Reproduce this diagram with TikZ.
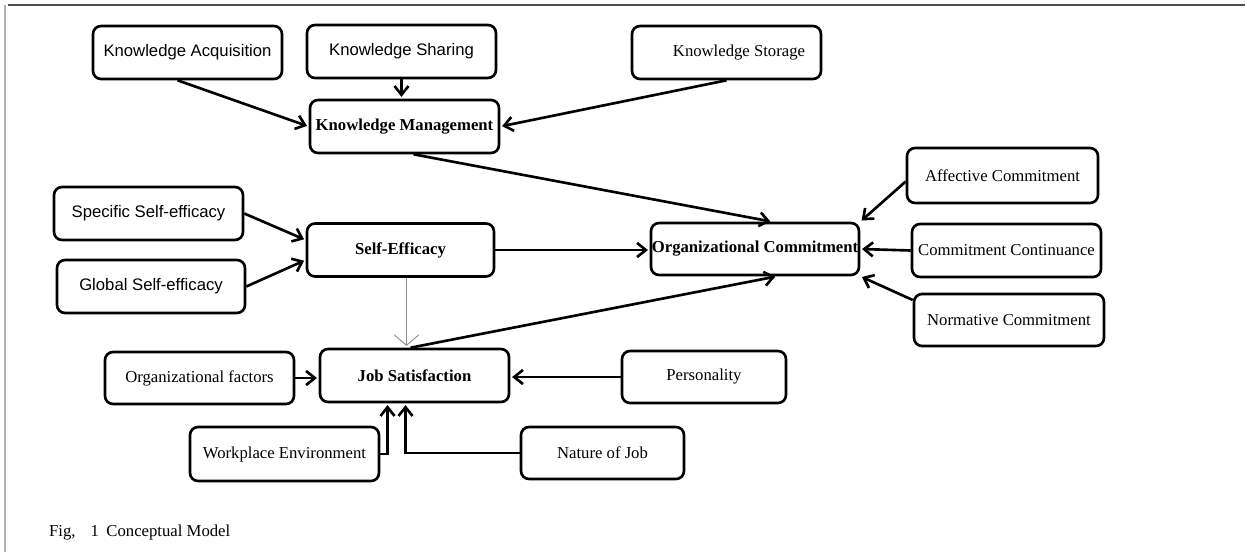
\documentclass[tikz,border=0pt]{standalone}
\usepackage{fontspec}
\setmainfont{Liberation Serif}
\setsansfont{Liberation Sans}
\usetikzlibrary{arrows.meta}

\begin{document}
\begin{tikzpicture}[x=0.02cm, y=-0.02cm, shorten >=1pt]
  \tikzstyle{box} = [draw=black, line width=1.5pt, rounded corners=0.16cm, minimum width=3.78cm, minimum height=1.06cm, inner sep=1pt, font=\fontsize{9.5}{11}\selectfont]
  \tikzstyle{sbox} = [box, font=\fontsize{9.5}{11}\selectfont\sffamily]
  \tikzstyle{main} = [box, font=\fontsize{9.5}{11}\selectfont\bfseries]
  \tikzstyle{link} = [line width=1.5pt, -{Straight Barb[length=5pt, width=8pt]}]

  \useasboundingbox (0,0) rectangle (1247,554);
  \draw[black!70, line width=1.2pt] (8,5) -- (1247,5);
  \draw[black!30, line width=1.5pt] (5,5) -- (5,554);

  % knowledge side
  \node[sbox] (acq) at (187.5,52.5) {Knowledge Acquisition};
  \node[sbox] (shar) at (401.5,51.5) {Knowledge Sharing};
  \node[box] (stor) at (726.5,52.5) {\hspace{0.5cm}Knowledge Storage};
  \node[main] (km) at (404.5,126.5) {Knowledge Management};

  % self-efficacy side
  \node[sbox] (spec) at (148.5,213.5) {Specific Self-efficacy};
  \node[sbox, minimum width=3.76cm] (glob) at (151,286.5) {Global Self-efficacy};
  \node[main, minimum width=3.74cm] (se) at (400.5,250) {Self-Efficacy};

  % commitment side
  \node[main, minimum width=4.16cm, minimum height=1.04cm, inner sep=0pt] (oc) at (755,249) {Organizational Commitment};
  \node[box, minimum width=3.82cm, minimum height=1.1cm] (aff) at (1002.5,175.5) {Affective Commitment};
  \node[box] (cont) at (1006.5,250.5) {Commitment Continuance};
  \node[box, minimum width=3.8cm, minimum height=1.04cm] (norm) at (1009,320) {Normative Commitment};

  % job satisfaction side
  \node[main] (js) at (414.5,375.5) {Job Satisfaction};
  \node[box, minimum height=1.04cm] (orgf) at (199.5,378) {Organizational factors};
  \node[box, minimum width=3.28cm, minimum height=1.04cm] (pers) at (704,377) {Personality};
  \node[box, minimum height=1.08cm] (work) at (284.5,454) {Workplace Environment};
  \node[box, minimum width=3.26cm, minimum height=1.04cm] (nat) at (602.5,453) {Nature of Job};

  \node[anchor=west, font=\fontsize{9.5}{11}\selectfont] (cap) at (43,533) {Fig,\hspace{0.3cm}1\hspace{0.15cm}Conceptual Model};

  \draw[link] ([xshift=-0.2cm]acq.south) -- (km.west);
  \draw[link] (shar.south) -- (shar.south |- km.north);
  \draw[link] (stor.south) -- (km.east);
  \draw[link] ([xshift=0.18cm]km.south) -- ([xshift=0.34cm]oc.north);

  \draw[link] (spec.east) -- ([yshift=0.2cm]se.west);
  \draw[link] (glob.east) -- ([yshift=-0.2cm]se.west);
  \draw[link] (se.east) -- (se.east -| oc.west);
  \draw[black!45, line width=0.5pt, -{Straight Barb[length=6pt, width=14pt]}] ([xshift=0.12cm]se.south) -- ([xshift=0.12cm]se.south |- js.north);
  \draw[link] ([xshift=-0.08cm]js.north) -- ([xshift=0.44cm]oc.south);

  \draw[link] ([yshift=-0.12cm]aff.west) -- (oc.north east);
  \draw[link] (cont.west) -- (oc.east);
  \draw[link] ([yshift=0.4cm]norm.west) -- (oc.south east);

  \draw[link] (orgf.east) -- (orgf.east -| js.west);
  \draw[link] (pers.west) -- (pers.west -| js.east);
  \draw[link] (work.east) -| ([xshift=-0.54cm]js.south);
  \draw[link] (nat.west) -| ([xshift=-0.18cm]js.south);
\end{tikzpicture}
\end{document}
